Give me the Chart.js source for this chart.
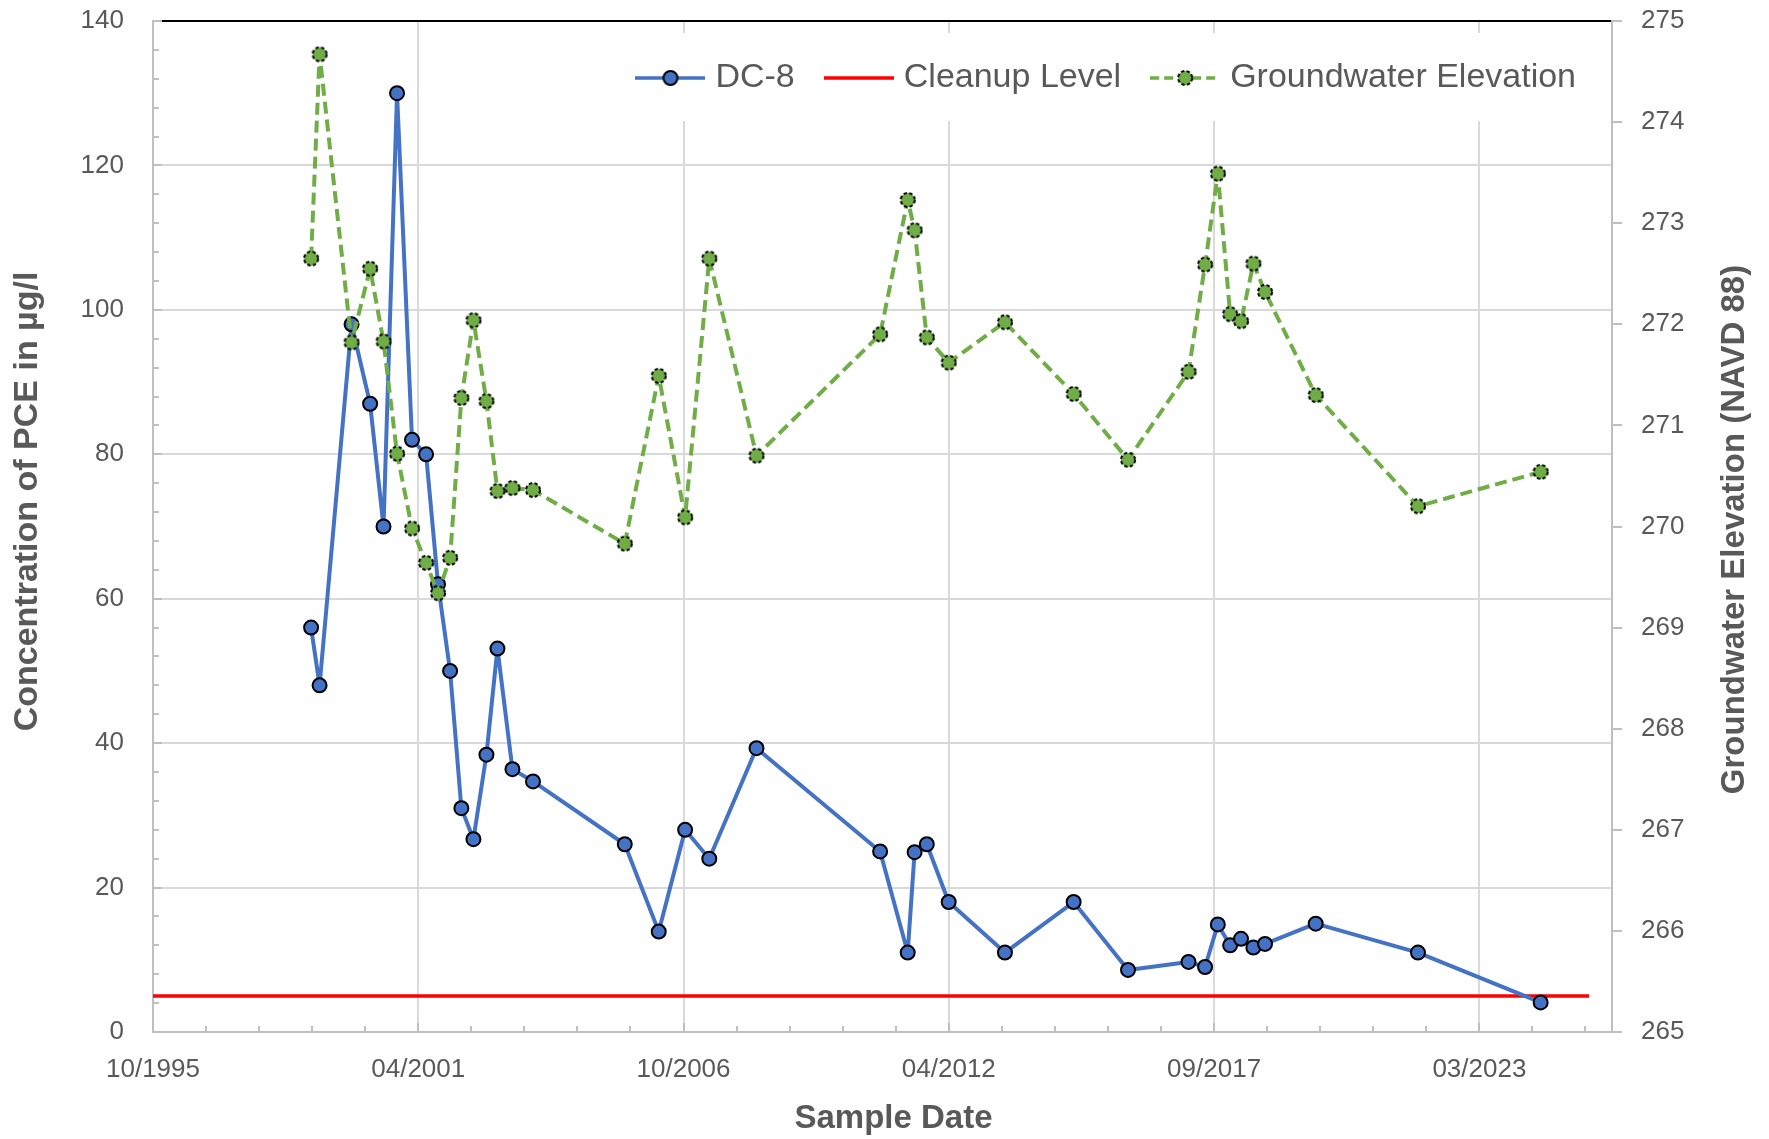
<!DOCTYPE html>
<html>
<head>
<meta charset="utf-8">
<script src="https://cdn.jsdelivr.net/npm/chart.js@4.4.1/dist/chart.umd.min.js"></script>
<style>
html, body { margin: 0; padding: 0; background: #ffffff; }
canvas { display: block; }
</style>
</head>
<body>
<canvas id="chart" width="1769" height="1139"></canvas>
<script>
// ---------------- DATA ----------------
const sampleDates = [
  '1999-02-01', '1999-04-06', '1999-12-03', '2000-04-21', '2000-07-31', '2000-11-10',
  '2001-03-03', '2001-06-17', '2001-09-15', '2001-12-15', '2002-03-10', '2002-06-09',
  '2002-09-15', '2002-12-07', '2003-03-30', '2003-09-01', '2005-07-24', '2006-04-06',
  '2006-10-22', '2007-04-22', '2008-04-12', '2010-10-31', '2011-05-27', '2011-07-18',
  '2011-10-18', '2012-03-31', '2013-05-29', '2014-10-29', '2015-12-13', '2017-03-13',
  '2017-07-16', '2017-10-20', '2018-01-21', '2018-04-13', '2018-07-15', '2018-10-11',
  '2019-10-28', '2021-12-07', '2024-06-19'
];
const dc8Values = [
  56, 48, 98, 87, 70, 130,
  82, 80, 62, 50, 31, 26.7,
  38.4, 53.1, 36.4, 34.7, 26, 13.9,
  28, 24, 39.3, 25, 11, 24.9,
  26, 18, 11, 18, 8.6, 9.7,
  9, 14.9, 12, 12.9, 11.7, 12.2,
  15, 11, 4.1
];
const groundwaterValues = [
  272.65, 274.67, 271.82, 272.55, 271.83, 270.72,
  269.98, 269.64, 269.34, 269.69, 271.27, 272.04,
  271.24, 270.35, 270.38, 270.36, 269.83, 271.49,
  270.09, 272.65, 270.70, 271.90, 273.23, 272.93,
  271.87, 271.62, 272.02, 271.31, 270.66, 271.53,
  272.59, 273.49, 272.10, 272.03, 272.60, 272.32,
  271.30, 270.20, 270.54
];
const cleanupDates = ['1995-10-28', '2025-06-19'];
const cleanupValues = [5, 5];

const seriesNames = ['DC-8', 'Cleanup Level', 'Groundwater Elevation'];
const xTitle = 'Sample Date';
const yTitle = 'Concentration of PCE in µg/l';
const y2Title = 'Groundwater Elevation (NAVD 88)';

// Date axis (Excel-style serial day numbers)
const xTickSerials = [35000, 37000, 39000, 41000, 43000, 45000];
const xAxisMin = 35000;
const xAxisMax = 46000;
const xMajorStep = 2000;
const xMinorStep = 400;

const yMin = 0, yMax = 140, yMajorStep = 20, yMinorStep = 4;
const y2Min = 265, y2Max = 275, y2Step = 1;

// ---------------- HELPERS ----------------
const EPOCH = Date.UTC(1899, 11, 30);
function toSerial(s) {
  const [y, m, d] = s.split('-').map(Number);
  return (Date.UTC(y, m - 1, d) - EPOCH) / 86400000;
}
function fmtSerial(v) {
  const d = new Date(EPOCH + v * 86400000);
  return String(d.getUTCMonth() + 1).padStart(2, '0') + '/' + d.getUTCFullYear();
}

const FONT = "'Liberation Sans'";
const TEXT = '#595959';
const BLUE = '#4472C4';
const GREEN = '#70AD47';
const RED = '#FF0000';
const AXIS = '#BFBFBF';
const MARK_R = 7;

function makeMarker(fill, dashed) {
  const c = document.createElement('canvas');
  c.width = 20; c.height = 20;
  const g = c.getContext('2d');
  g.beginPath();
  g.arc(10, 10, MARK_R, 0, Math.PI * 2);
  g.fillStyle = fill;
  g.fill();
  if (dashed) g.setLineDash([3.4, 2.3]);
  g.lineWidth = 2;
  g.strokeStyle = '#000';
  g.stroke();
  return c;
}
function makeLegendSample(color, dash, marker) {
  const c = document.createElement('canvas');
  c.width = 70; c.height = 20;
  const g = c.getContext('2d');
  g.strokeStyle = color;
  g.lineWidth = 3.5;
  g.setLineDash(dash);
  g.beginPath();
  g.moveTo(0, 10);
  g.lineTo(70, 10);
  g.stroke();
  g.setLineDash([]);
  if (marker) g.drawImage(marker, 35 - marker.width / 2, 10 - marker.height / 2);
  return c;
}

const gwMarker = makeMarker(GREEN, true);
const dcMarker = makeMarker(BLUE, false);
const legendImgs = [
  makeLegendSample(BLUE, [], dcMarker),
  makeLegendSample(RED, [], null),
  makeLegendSample(GREEN, [9, 5], gwMarker)
];

function drawRotatedTitle(ctx, text, x, y, size) {
  ctx.save();
  ctx.translate(x, y);
  ctx.rotate(-Math.PI / 2);
  ctx.font = 'bold ' + size + 'px ' + FONT;
  ctx.fillStyle = TEXT;
  ctx.textAlign = 'center';
  ctx.textBaseline = 'middle';
  ctx.fillText(text, 0, 0);
  ctx.restore();
}

// ---------------- PLUGIN ----------------
const decor = {
  id: 'decor',
  beforeInit(chart) {
    const lg = chart.legend;
    if (lg) {
      const fit = lg.fit.bind(lg);
      lg.fit = function () { fit(); this._fullHeight = this.height; this.height = 0; };
    }
  },
  afterLayout(chart) {
    const lg = chart.legend;
    if (lg && lg._fullHeight) {
      lg.top += 4;
      lg.height = lg._fullHeight;
      lg.bottom = lg.top + lg.height;
    }
  },
  beforeDatasetsDraw(chart) {
    const { ctx, chartArea: a, scales } = chart;
    const x = scales.x, y = scales.y, y2 = scales.y2;
    ctx.save();
    ctx.strokeStyle = AXIS;
    ctx.lineWidth = 2;
    ctx.beginPath();
    for (let v = yMin; v <= yMax + 1e-9; v += yMinorStep) {
      const p = Math.round(y.getPixelForValue(v));
      const len = (v % yMajorStep === 0) ? 9 : 6;
      ctx.moveTo(a.left, p);
      ctx.lineTo(a.left + len, p);
    }
    for (let s = xAxisMin; s <= xAxisMax; s += xMinorStep) {
      const p = Math.round(x.getPixelForValue(s));
      const len = ((s - xAxisMin) % xMajorStep === 0) ? 9 : 6;
      ctx.moveTo(p, a.bottom);
      ctx.lineTo(p, a.bottom - len);
    }
    for (let v = y2Min; v <= y2Max + 1e-9; v += y2Step) {
      const p = Math.round(y2.getPixelForValue(v));
      ctx.moveTo(a.right, p);
      ctx.lineTo(a.right + 10, p);
    }
    ctx.stroke();
    // legend backdrop (white box over gridlines)
    const hb = chart.legend.legendHitBoxes;
    if (hb && hb.length) {
      const left = Math.min(...hb.map(h => h.left)) - 26;
      const top = Math.min(...hb.map(h => h.top)) - 28;
      const bottom = Math.max(...hb.map(h => h.top + h.height)) + 26;
      const right = a.right - 2;
      ctx.fillStyle = '#ffffff';
      ctx.fillRect(left, top, right - left, bottom - top);
    }
    ctx.restore();
    chart.legend.draw();
  },
  afterDraw(chart) {
    const { ctx, chartArea: a, scales } = chart;
    const midY = (a.top + a.bottom) / 2;
    drawRotatedTitle(ctx, yTitle, scales.y.left - 48.6, midY - 25, 34);
    drawRotatedTitle(ctx, y2Title, scales.y2.right + 47, midY + 3, 33);
    ctx.save();
    ctx.font = 'bold 33px ' + FONT;
    ctx.fillStyle = TEXT;
    ctx.textAlign = 'center';
    ctx.textBaseline = 'middle';
    ctx.fillText(xTitle, (a.left + a.right) / 2 + 11, scales.x.bottom + 12);
    ctx.restore();
  }
};

// ---------------- CHART ----------------
Chart.defaults.font.family = FONT;

new Chart(document.getElementById('chart'), {
  type: 'line',
  data: {
    datasets: [
      {
        label: seriesNames[0],
        data: sampleDates.map((d, i) => ({ x: toSerial(d), y: dc8Values[i] })),
        yAxisID: 'y',
        borderColor: BLUE,
        borderWidth: 4,
        borderJoinStyle: 'round',
        pointRadius: MARK_R,
        pointBackgroundColor: BLUE,
        pointBorderColor: '#000',
        pointBorderWidth: 2,
        tension: 0,
        order: 2
      },
      {
        label: seriesNames[1],
        data: cleanupDates.map((d, i) => ({ x: toSerial(d), y: cleanupValues[i] })),
        yAxisID: 'y',
        borderColor: RED,
        borderWidth: 3.5,
        pointRadius: 0,
        order: 3
      },
      {
        label: seriesNames[2],
        data: sampleDates.map((d, i) => ({ x: toSerial(d), y: groundwaterValues[i] })),
        yAxisID: 'y2',
        borderColor: GREEN,
        borderWidth: 4,
        borderDash: [12, 6],
        borderJoinStyle: 'round',
        pointStyle: gwMarker,
        pointRadius: MARK_R,
        tension: 0,
        order: 1
      }
    ]
  },
  options: {
    responsive: false,
    animation: false,
    devicePixelRatio: 1,
    events: [],
    layout: { padding: { left: 76.6, right: 80.6, top: 21, bottom: 31.8 } },
    plugins: {
      tooltip: { enabled: false },
      legend: {
        position: 'top',
        align: 'end',
        fullSize: false,
        labels: {
          usePointStyle: true,
          pointStyleWidth: 56,
          padding: 36,
          color: TEXT,
          font: { size: 34 },
          generateLabels: () => seriesNames.map((name, i) => ({
            text: name,
            pointStyle: legendImgs[i],
            fillStyle: '#fff',
            strokeStyle: '#fff',
            fontColor: TEXT,
            lineWidth: 0,
            hidden: false,
            datasetIndex: i
          }))
        }
      }
    },
    scales: {
      x: {
        type: 'linear',
        position: 'bottom',
        min: xAxisMin,
        max: xAxisMax,
        afterBuildTicks: (s) => { s.ticks = xTickSerials.map(v => ({ value: v })); },
        ticks: {
          callback: (v) => fmtSerial(v),
          font: { size: 26 },
          color: TEXT,
          padding: 22,
          maxRotation: 0,
          autoSkip: false
        },
        grid: { color: '#D9D9D9', lineWidth: 2, drawTicks: false },
        border: { color: AXIS, width: 2 }
      },
      x2: {
        type: 'linear',
        position: 'top',
        min: xAxisMin,
        max: xAxisMax,
        ticks: { display: false },
        grid: { display: false, drawTicks: false },
        border: { display: true, color: '#000000', width: 2 }
      },
      y: {
        position: 'left',
        min: yMin,
        max: yMax,
        ticks: { stepSize: yMajorStep, font: { size: 26 }, color: TEXT, padding: 4 },
        grid: { color: '#D9D9D9', lineWidth: 2, drawTicks: true, tickLength: 25, tickColor: 'rgba(0,0,0,0)' },
        border: { color: AXIS, width: 2 }
      },
      y2: {
        position: 'right',
        min: y2Min,
        max: y2Max,
        ticks: { stepSize: y2Step, font: { size: 26 }, color: TEXT, padding: 4 },
        grid: { drawOnChartArea: false, drawTicks: true, tickLength: 25, tickColor: 'rgba(0,0,0,0)', color: 'rgba(0,0,0,0)' },
        border: { color: AXIS, width: 2 }
      }
    }
  },
  plugins: [decor]
});
</script>
</body>
</html>
